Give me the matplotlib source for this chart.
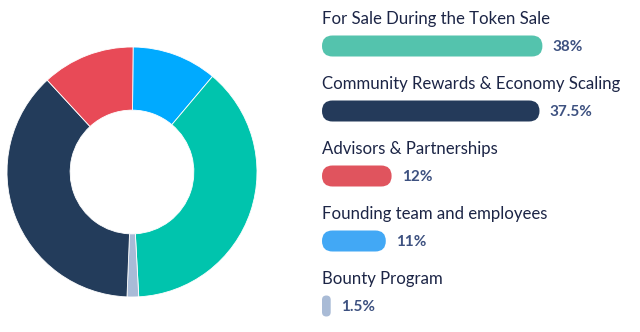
import matplotlib
matplotlib.use("Agg")
import matplotlib.pyplot as plt
from matplotlib.patches import FancyBboxPatch

# ---- data ----
categories = ["For Sale During the Token Sale",
              "Community Rewards & Economy Scaling",
              "Advisors & Partnerships",
              "Founding team and employees",
              "Bounty Program"]
values = [38, 37.5, 12, 11, 1.5]
pct_labels = ["38%", "37.5%", "12%", "11%", "1.5%"]
bar_colors = ["#54c3ad", "#243a5a", "#e0545e", "#42a8f5", "#a9bbd6"]

# donut order (clockwise from top)
donut_order = [3, 0, 4, 1, 2]
donut_colors = {0: "#00c4ad", 1: "#233c5b", 2: "#e84a57", 3: "#00aaff", 4: "#a8bbd7"}

W, H = 640, 332
fig = plt.figure(figsize=(W / 100, H / 100), dpi=100)
fig.patch.set_facecolor("white")

# ---- donut ----
cx, cy, R = 132, 172, 125
axp = fig.add_axes([(cx - R) / W, (H - cy - R) / H, 2 * R / W, 2 * R / H])
axp.pie([values[i] for i in donut_order],
        colors=[donut_colors[i] for i in donut_order],
        startangle=89.5, counterclock=False, radius=1.0,
        wedgeprops=dict(width=0.505, edgecolor="white", linewidth=0.6))
axp.set_xlim(-1, 1)
axp.set_ylim(-1, 1)
axp.axis("off")

# ---- bars ----
x0 = 322
px_per_pct = 5.8
row_gap = 65
first_center = 46
bar_h_px = 21
label_off_px = 27

axb = fig.add_axes([x0 / W, 0, (W - x0) / W, 1])
axb.set_xlim(0, (W - x0) / px_per_pct)
axb.set_ylim((H - first_center) / row_gap, -first_center / row_gap)
axb.axis("off")

bar_h = bar_h_px / row_gap
asp = px_per_pct / row_gap  # y-units per x-unit in pixel terms
for i, (cat, v, lab, col) in enumerate(zip(categories, values, pct_labels, bar_colors)):
    h_eff = bar_h / asp
    r = min(v, h_eff) / 2
    patch = FancyBboxPatch((0, i - bar_h / 2), v, bar_h,
                           boxstyle=f"round,pad=0,rounding_size={r}",
                           mutation_aspect=asp,
                           facecolor=col, edgecolor="none")
    axb.add_patch(patch)
    axb.text(0, i - label_off_px / row_gap, cat, va="center", ha="left",
             fontsize=12.1, color="#1c2546", family="Lato")
    axb.text(v + 10 / px_per_pct, i + 0.01, lab, va="center", ha="left",
             fontsize=11, color="#3d5180", family="Lato", fontweight="bold")

fig.savefig("out.png", dpi=100)
